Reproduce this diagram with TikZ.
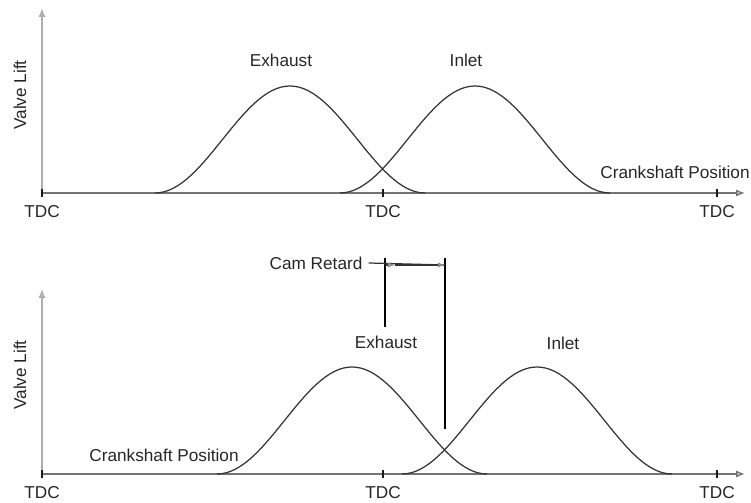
\documentclass[tikz,border=0pt]{standalone}
\usepackage{fontspec}
\setmainfont{Liberation Sans}
\usetikzlibrary{arrows.meta}

\begin{document}
\begin{tikzpicture}[x=0.02cm,y=0.02cm,
                    every node/.style={font=\fontsize{9.8}{11}\selectfont,text=black!85,inner sep=0pt},
                    assey/.style={line width=1.4pt,draw=black!32,-{Latex[open,length=5pt,width=4pt]}},
                    assex/.style={line width=0.8pt,draw=black!55,-{Latex[open,length=5pt,width=4pt]}},
                    tacca/.style={line width=0.8pt,draw=black!90},
                    curva/.style={line width=0.7pt,draw=black!80},
                    riga/.style={line width=1pt,draw=black},
                    ritardo/.style={line width=0.7pt,draw=black!80},
                    punta/.style={-{Latex[open,length=4pt,width=3pt,color=black!45]}}]
  \useasboundingbox (0,0) rectangle (751,503);
  \foreach \nm/\yb/\sh in {t/310/0,b/29/62} {
    \coordinate (o\nm) at (42,\yb);
    \coordinate (ye\nm) at (42,\yb+185);
    \coordinate (xe\nm) at (745,\yb);
    \draw[assey] (o\nm) -- (ye\nm);
    \draw[assex] (o\nm) -- (xe\nm);
    \foreach \xx/\i in {42/1,383/2,717/3} {
      \draw[tacca] (\xx,\yb-4) -- (\xx,\yb+4);
      \node (tdc\nm\i) at (\xx,\yb-19) {TDC};
    }
    \draw[curva] plot[domain=-135:135,samples=61] ({290+\sh+\x},{\yb+107*(1+cos(\x*4/3))/2});
    \draw[curva] plot[domain=-135:135,samples=61] ({475+\sh+\x},{\yb+107*(1+cos(\x*4/3))/2});
  }
  % pannello superiore
  \node[rotate=90] (vlt) at (20,408) {Valve Lift};
  \node (exht) at (281,443) {Exhaust};
  \node (inlt) at (466,443) {Inlet};
  \node (cpt) at (675,331) {Crankshaft Position};
  % pannello inferiore
  \node[rotate=90] (vlb) at (20,128) {Valve Lift};
  \node (exhb) at (386,161) {Exhaust};
  \node (inlb) at (563,160) {Inlet};
  \node (cpb) at (164,48) {Crankshaft Position};
  % ritardo camme
  \node (cr) at (316,240) {Cam Retard};
  \coordinate (l1a) at (385,245);
  \coordinate (l1b) at (385,176);
  \coordinate (l2a) at (445,245);
  \coordinate (l2b) at (445,74);
  \coordinate (r0) at (385,238);
  \coordinate (r1) at (395,238);
  \coordinate (r2) at (445,238);
  \draw[riga] (l1a) -- (l1b);
  \draw[riga] (l2a) -- (l2b);
  \draw[ritardo] ([xshift=3.4pt]cr.east) -- (r2);
  \draw[ritardo,punta] (r0) -- (r1);
  \draw[ritardo,punta] (r1) -- (r2);
\end{tikzpicture}
\end{document}
